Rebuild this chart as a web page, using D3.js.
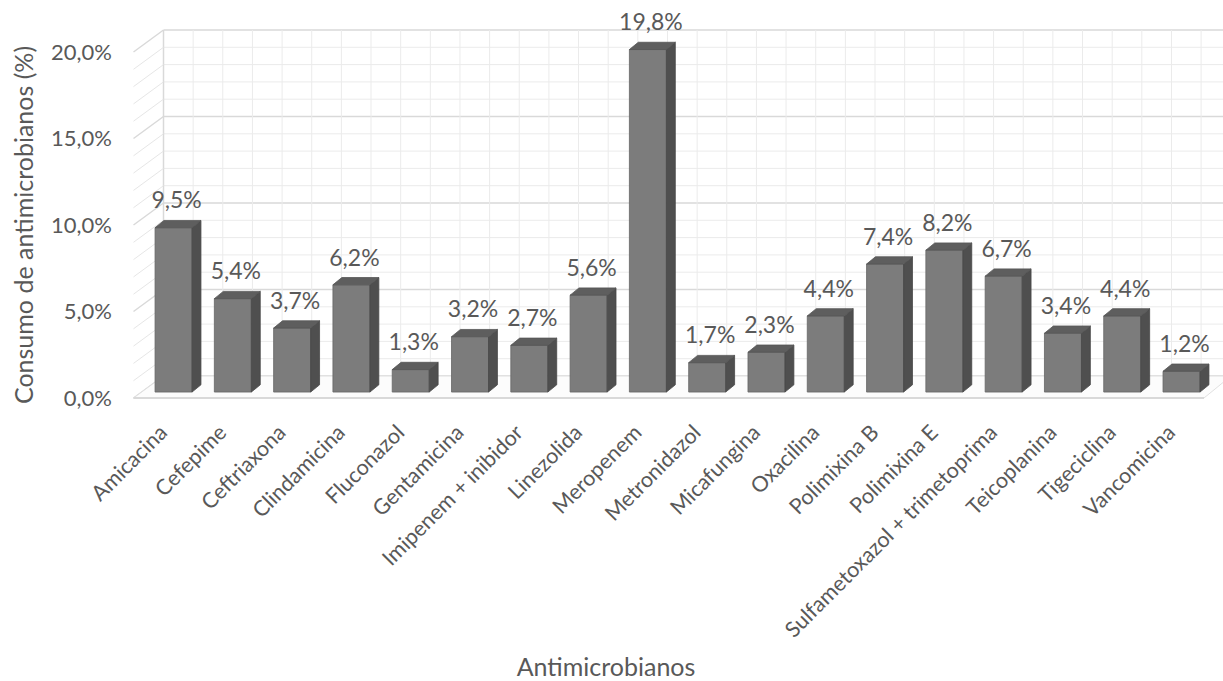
<!DOCTYPE html>
<html>
<head>
<meta charset="utf-8">
<script src="https://cdnjs.cloudflare.com/ajax/libs/d3/7.8.5/d3.min.js"></script>
<style>
  body { margin: 0; background: #fff; }
  svg { font-family: Lato, "Open Sans", sans-serif; }
</style>
</head>
<body>
<div id="chart"></div>
<script>
var categories = ["Amicacina", "Cefepime", "Ceftriaxona", "Clindamicina", "Fluconazol", "Gentamicina",
  "Imipenem + inibidor", "Linezolida", "Meropenem", "Metronidazol", "Micafungina", "Oxacilina",
  "Polimixina B", "Polimixina E", "Sulfametoxazol + trimetoprima", "Teicoplanina", "Tigeciclina", "Vancomicina"];
var values = [9.5, 5.4, 3.7, 6.2, 1.3, 3.2, 2.7, 5.6, 19.8, 1.7, 2.3, 4.4, 7.4, 8.2, 6.7, 3.4, 4.4, 1.2];
var yTicks = [0, 5, 10, 15, 20];

var width = 1223, height = 681;
var textColor = "#595959";
// depth vector of the 3d box (front -> back wall)
var kx = 27, ky = 22;
var d0 = 0.27, d1 = 0.6;

var svg = d3.select("#chart").append("svg")
  .attr("width", width)
  .attr("height", height);

var x = d3.scaleBand()
  .domain(categories)
  .range([136.5, 1204])
  .paddingInner(0.376)
  .paddingOuter(0.19);

var y = d3.scaleLinear()
  .domain([0, 20])
  .range([398, 52]);

function P(px, v, d) { return [px + d * kx, y(v) - d * ky]; }
function poly(pts) { return pts.map(function(p) { return p.join(","); }).join(" "); }

var x0 = x.range()[0], x1 = x.range()[1];
var grid = svg.append("g");

// back wall horizontal lines
grid.selectAll("line.bh")
  .data(y.ticks(20))
  .enter().append("line")
  .attr("x1", P(x0, 0, 1)[0]).attr("x2", P(x1, 0, 1)[0])
  .attr("y1", function(d) { return P(0, d, 1)[1]; })
  .attr("y2", function(d) { return P(0, d, 1)[1]; })
  .attr("stroke", function(d) { return d % 5 === 0 ? "#d9d9d9" : "#ebebeb"; })
  .attr("stroke-width", function(d) { return d % 5 === 0 ? 1.5 : 1; });

// back wall vertical lines (half category steps)
var halfSteps = d3.range(0, categories.length * 2 + 1).map(function(k) { return x0 + k * x.step() / 2; });
grid.selectAll("line.bv")
  .data(halfSteps)
  .enter().append("line")
  .attr("x1", function(d) { return P(d, 0, 1)[0]; })
  .attr("x2", function(d) { return P(d, 0, 1)[0]; })
  .attr("y1", P(0, 0, 1)[1]).attr("y2", P(0, 20, 1)[1])
  .attr("stroke", function(d, i) { return i === 0 ? "#d9d9d9" : "#ebebeb"; })
  .attr("stroke-width", function(d, i) { return i === 0 ? 1.5 : 1; });

// side wall diagonals
grid.selectAll("line.sd")
  .data(y.ticks(20))
  .enter().append("line")
  .attr("x1", P(x0 - 3, 0, 0)[0]).attr("x2", P(x0, 0, 1)[0])
  .attr("y1", function(d) { return P(0, d, 0)[1]; })
  .attr("y2", function(d) { return P(0, d, 1)[1]; })
  .attr("stroke", function(d) { return d % 5 === 0 ? "#d9d9d9" : "#e6e6e6"; })
  .attr("stroke-width", function(d) { return d % 5 === 0 ? 1.5 : 1; });

// floor
grid.append("polygon")
  .attr("points", poly([P(x0 - 3, 0, 0), P(x1, 0, 0), P(x1, 0, 1), P(x0, 0, 1)]))
  .attr("fill", "#fcfcfc")
  .attr("stroke", "#e0e0e0");
grid.append("line")
  .attr("x1", P(x0 - 3, 0, 0)[0]).attr("x2", P(x1, 0, 0)[0])
  .attr("y1", y(0)).attr("y2", y(0))
  .attr("stroke", "#d9d9d9").attr("stroke-width", 2);

// y axis labels
var yAxis = svg.append("g")
  .attr("transform", "translate(112,0)")
  .call(d3.axisLeft(y).tickValues(yTicks).tickSize(0).tickPadding(0)
    .tickFormat(function(d) { return d.toFixed(1).replace(".", ",") + "%"; }));
yAxis.select(".domain").remove();
yAxis.selectAll("text")
  .attr("fill", textColor)
  .style("font-size", "22px")
  .style("font-family", "Lato, sans-serif");

// bars
var bars = svg.selectAll("g.bar")
  .data(categories)
  .enter().append("g");

bars.append("polygon")
  .attr("points", function(c, i) {
    var a = x(c), b = x(c) + x.bandwidth();
    return poly([P(a, 0, d0), P(b, 0, d0), P(b, values[i], d0), P(a, values[i], d0)]);
  })
  .attr("fill", "#7c7c7c").attr("stroke", "#666666").attr("stroke-width", 0.8);

bars.append("polygon")
  .attr("points", function(c, i) {
    var b = x(c) + x.bandwidth();
    return poly([P(b, 0, d0), P(b, 0, d1), P(b, values[i], d1), P(b, values[i], d0)]);
  })
  .attr("fill", "#4f4f4f").attr("stroke", "#474747").attr("stroke-width", 0.8);

bars.append("polygon")
  .attr("points", function(c, i) {
    var a = x(c), b = x(c) + x.bandwidth();
    return poly([P(a, values[i], d0), P(b, values[i], d0), P(b, values[i], d1), P(a, values[i], d1)]);
  })
  .attr("fill", "#5e5e5e").attr("stroke", "#555555").attr("stroke-width", 0.8);

// data labels
bars.append("text")
  .attr("x", function(c) { return P(x(c) + x.bandwidth() / 2, 0, d0)[0] + 3; })
  .attr("y", function(c, i) { return P(0, values[i], d1)[1] - 12; })
  .attr("text-anchor", "middle")
  .attr("fill", textColor)
  .style("font-size", "23px")
  .text(function(c, i) { return values[i].toFixed(1).replace(".", ",") + "%"; });

// category labels
svg.append("g").selectAll("text")
  .data(categories)
  .enter().append("text")
  .attr("transform", function(c) {
    var cx = P(x(c) + x.bandwidth() / 2, 0, d0)[0] - 5;
    return "translate(" + cx + ",434) rotate(-45)";
  })
  .attr("text-anchor", "end")
  .attr("fill", textColor)
  .style("font-size", "21.5px")
  .text(function(c) { return c; });

// axis titles
svg.append("text")
  .attr("transform", "translate(33,225) rotate(-90)")
  .attr("text-anchor", "middle")
  .attr("fill", textColor)
  .style("font-size", "25px")
  .text("Consumo de antimicrobianos (%)");

svg.append("text")
  .attr("x", 606).attr("y", 676)
  .attr("text-anchor", "middle")
  .attr("fill", textColor)
  .style("font-size", "25px")
  .text("Antimicrobianos");
</script>
</body>
</html>
